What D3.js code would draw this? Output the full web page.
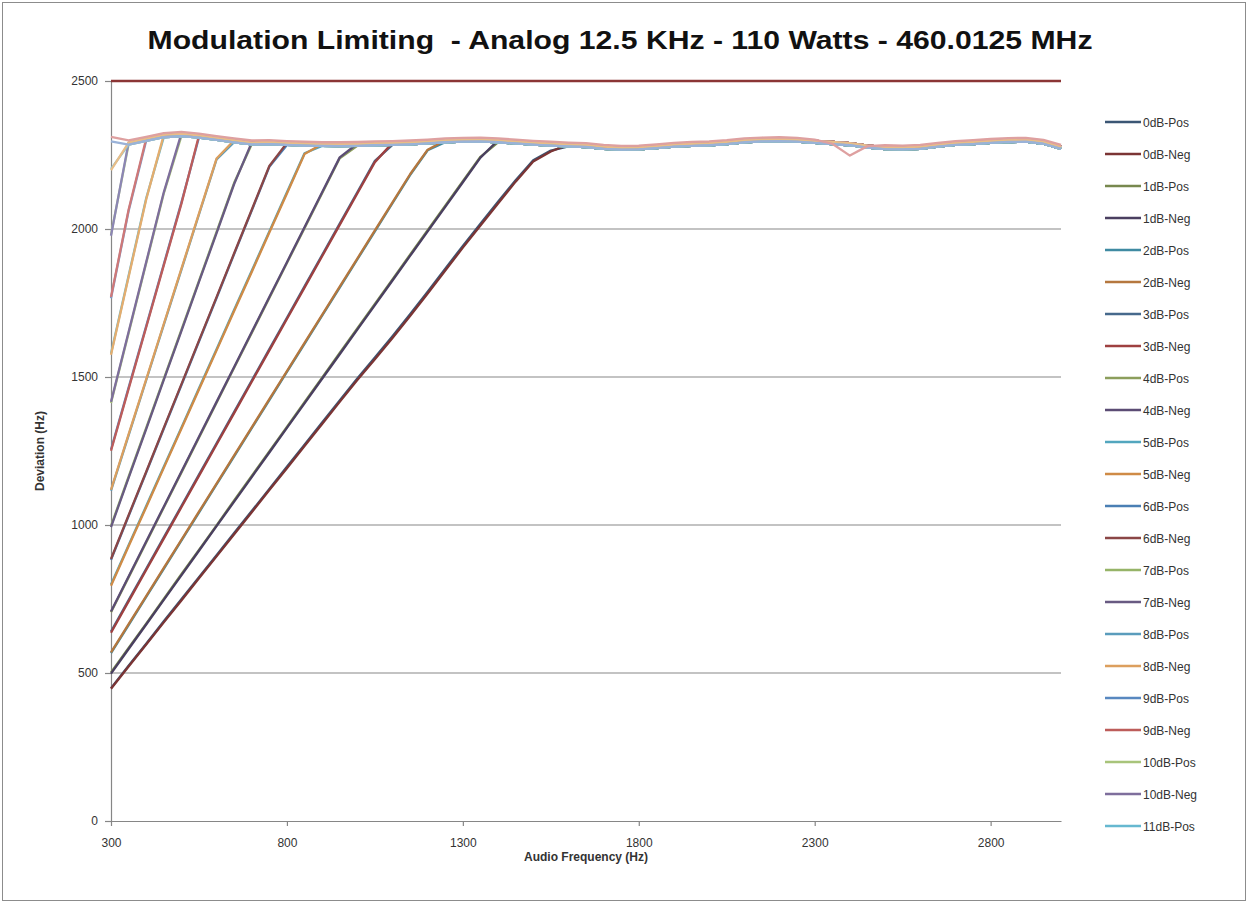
<!DOCTYPE html>
<html>
<head>
<meta charset="utf-8">
<script src="https://cdn.jsdelivr.net/npm/d3@7/dist/d3.min.js"></script>
<style>
  body { margin: 0; background: #fff; }
  svg { display: block; font-family: "Liberation Sans Narrow", "Liberation Sans", Arial, sans-serif; }
</style>
</head>
<body>
<script>
// audio frequency steps (Hz)
const freqs = [300,350,400,450,500,550,600,650,700,750,800,850,900,950,1000,1050,1100,1150,1200,1250,
  1300,1350,1400,1450,1500,1550,1600,1650,1700,1750,1800,1850,1900,1950,2000,2050,2100,2150,2200,2250,
  2300,2350,2400,2450,2500,2550,2600,2650,2700,2750,2800,2850,2900,2950,3000];

// limited deviation once the limiter kicks in (three slightly different traces)
const plateauA = [2305,2292,2305,2318,2322,2316,2308,2300,2292,2294,2291,2289,2287,2287,2288,2290,2291,2293,2296,2300,
  2302,2303,2300,2296,2292,2289,2286,2284,2278,2275,2276,2280,2285,2288,2290,2294,2300,2303,2304,2302,
  2298,2294,2290,2282,2277,2276,2278,2285,2291,2294,2298,2301,2302,2295,2278];
const plateauB = [2296,2285,2298,2310,2314,2309,2301,2293,2286,2287,2284,2282,2281,2280,2281,2283,2284,2286,2289,2293,
  2295,2296,2293,2289,2285,2282,2279,2277,2271,2268,2269,2273,2278,2281,2283,2287,2293,2296,2297,2295,
  2291,2287,2283,2275,2270,2269,2271,2278,2284,2287,2291,2294,2295,2288,2271];
const plateauC = [2311,2299,2311,2324,2328,2322,2314,2306,2299,2300,2297,2295,2293,2293,2294,2296,2297,2299,2302,2306,
  2308,2309,2306,2302,2298,2295,2292,2290,2284,2281,2282,2286,2291,2294,2296,2300,2306,2309,2310,2308,
  2302,2288,2248,2280,2283,2282,2284,2291,2297,2300,2304,2307,2308,2301,2284];

// audio level above reference (dB)
const levels = [0,1,2,3,4,5,6,7,8,9,10,11,12,13,14,15];

// rising part of each trace, from 300 Hz upward until it reaches the limit
const rampNeg = [
  [447,522,596,671,745,820,894,969,1043,1118,1192,1267,1341,1416,1490,1560,1632,1706,1782,1860,1937,2012,2086,2160,2228,2262],
  [498,581,664,747,830,913,996,1079,1162,1245,1328,1411,1494,1577,1660,1743,1826,1909,1992,2075,2158,2241],
  [570,665,760,855,950,1045,1140,1235,1330,1425,1520,1615,1710,1805,1900,1995,2090,2185,2268],
  [636,742,848,954,1060,1166,1272,1378,1484,1590,1696,1802,1908,2014,2120,2226],
  [708,826,944,1062,1180,1298,1416,1534,1652,1770,1888,2006,2124,2242],
  [795,928,1060,1193,1325,1458,1590,1723,1855,1988,2120,2253],
  [885,1033,1180,1328,1475,1623,1770,1918,2065,2213],
  [993,1159,1324,1490,1655,1821,1986,2152],
  [1119,1306,1492,1679,1865,2052,2238],
  [1251,1460,1668,1877,2085],
  [1416,1652,1888,2124],
  [1575,1838,2100],
  [1770,2065],
  [1977],
  [2199],
  []
];
const rampPos = [
  [449,525,599,675,749,824,898,973,1047,1122,1197,1271,1346,1421,1495,1566,1638,1712,1788,1866,1943,2018,2092,2165,2232,2265],
  [502,585,667,750,834,916,999,1083,1166,1249,1331,1415,1498,1581,1664,1747,1830,1913,1996,2079,2162,2244],
  [567,662,757,852,947,1042,1137,1232,1327,1422,1517,1612,1707,1802,1897,1992,2087,2182,2266],
  [640,746,852,958,1064,1170,1276,1382,1488,1594,1700,1806,1912,2018,2124,2230],
  [705,823,941,1059,1177,1295,1413,1531,1649,1767,1885,2003,2121,2239],
  [799,932,1064,1197,1329,1462,1594,1727,1859,1992,2124,2256],
  [882,1030,1177,1325,1472,1620,1767,1915,2062,2210],
  [997,1163,1328,1494,1659,1825,1990,2156],
  [1116,1303,1489,1676,1862,2049,2235],
  [1255,1464,1672,1881,2089],
  [1412,1648,1884,2120],
  [1579,1842,2104],
  [1766,2061],
  [1981],
  [2203],
  []
];

const posColors = ['#3b5674','#77884e','#3f8aa2','#46698c','#8c9e5c','#52a6be','#4a7fb4','#96b468',
  '#5a9cbc','#5888c0','#a8c47a','#66b8d0','#7a9ecc','#b4cc8a','#80c4d8','#9ab2d8'];
const negColors = ['#7b3434','#4a3f60','#b5773e','#9e4040','#5b4c74','#cf8b46','#8a4646','#685a82',
  '#dc9f5e','#bd5c5a','#7e6e9c','#e4ad6e','#cf7878','#8c86b4','#e8bd88','#dea0a0'];

// upper limit line
const limitFreqs = [300, 3000];
const limitDev = [2500, 2500];

const xTicks = [300, 800, 1300, 1800, 2300, 2800];
const yTicks = [0, 500, 1000, 1500, 2000, 2500];
const legendCount = 23; // the legend only has room for the first 23 entries

const titleText = 'Modulation Limiting  - Analog 12.5 KHz - 110 Watts - 460.0125 MHz';

// build the series
const series = [];
levels.forEach((db, n) => {
  const join = (ramp, plateau) => freqs.map((f, i) => ({f: f, v: i < ramp.length ? ramp[i] : plateau[i]}));
  series.push({name: db + 'dB-Pos', color: posColors[n], values: join(rampPos[n], plateauB)});
  series.push({name: db + 'dB-Neg', color: negColors[n], values: join(rampNeg[n], n === 15 ? plateauC : plateauA)});
});
series.push({name: 'Limit', color: '#8b3535', values: limitFreqs.map((f, i) => ({f: f, v: limitDev[i]}))});

const W = 1249, H = 904;
const margin = {top: 81, right: 188, bottom: 83, left: 111};
const width = W - margin.left - margin.right;
const height = H - margin.top - margin.bottom;

const svg = d3.select('body').append('svg')
  .attr('width', W)
  .attr('height', H);

svg.append('rect')
  .attr('x', 2.5).attr('y', 2.5)
  .attr('width', W - 6).attr('height', H - 6)
  .attr('fill', '#fff')
  .attr('stroke', '#8c8c8c');

// title, stretched to the reference width
svg.append('text')
  .attr('x', 620).attr('y', 49)
  .attr('text-anchor', 'middle')
  .attr('font-size', 26)
  .attr('font-weight', 'bold')
  .attr('fill', '#111')
  .style('white-space', 'pre')
  .attr('textLength', 945).attr('lengthAdjust', 'spacingAndGlyphs')
  .text(titleText);

const g = svg.append('g')
  .attr('transform', `translate(${margin.left},${margin.top})`);

const x = d3.scaleLinear().domain([300, 3000]).range([0, width]);
const y = d3.scaleLinear().domain([0, 2500]).range([height, 0]);

// gridlines
g.append('g')
  .selectAll('line')
  .data(yTicks.filter(d => d > 0))
  .enter()
  .append('line')
  .attr('x1', 0).attr('x2', width)
  .attr('y1', d => y(d)).attr('y2', d => y(d))
  .attr('stroke', '#878787')
  .attr('stroke-width', 1.2);

const yAxis = g.append('g')
  .attr('class', 'axis y-axis')
  .call(d3.axisLeft(y).tickValues(yTicks).tickFormat(d3.format('d'))
    .tickSize(6).tickSizeOuter(0).tickPadding(7));

const xAxis = g.append('g')
  .attr('class', 'axis x-axis')
  .attr('transform', `translate(0,${height})`)
  .call(d3.axisBottom(x).tickValues(xTicks).tickFormat(d3.format('d'))
    .tickSize(5).tickSizeOuter(0).tickPadding(12));

svg.selectAll('.axis path, .axis line').attr('stroke', '#868686').attr('stroke-width', 1.2);
svg.selectAll('.axis text').attr('font-size', 12).attr('fill', '#333');

// the traces
const line = d3.line()
  .x(d => x(d.f))
  .y(d => y(d.v));

g.append('g')
  .selectAll('path')
  .data(series)
  .enter()
  .append('path')
  .attr('d', d => line(d.values))
  .attr('fill', 'none')
  .attr('stroke', d => d.color)
  .attr('stroke-width', 2.3)
  .attr('stroke-linejoin', 'round');

// axis titles
svg.append('text')
  .attr('transform', 'translate(44,451) rotate(-90)')
  .attr('text-anchor', 'middle')
  .attr('font-size', 12)
  .attr('font-weight', 'bold')
  .attr('fill', '#333')
  .text('Deviation (Hz)');

svg.append('text')
  .attr('x', margin.left + x(1650)).attr('y', 861)
  .attr('text-anchor', 'middle')
  .attr('font-size', 12)
  .attr('font-weight', 'bold')
  .attr('fill', '#333')
  .text('Audio Frequency (Hz)');

// legend
const legend = svg.append('g')
  .attr('transform', 'translate(1105,122)');

const rows = legend.selectAll('g')
  .data(series.slice(0, legendCount))
  .enter()
  .append('g')
  .attr('transform', (d, i) => `translate(0,${i * 32})`);

rows.append('line')
  .attr('x1', 0).attr('x2', 36)
  .attr('stroke', d => d.color)
  .attr('stroke-width', 2.5);

rows.append('text')
  .attr('x', 38).attr('y', 4.5)
  .attr('font-size', 12)
  .attr('fill', '#333')
  .text(d => d.name);
</script>
</body>
</html>
